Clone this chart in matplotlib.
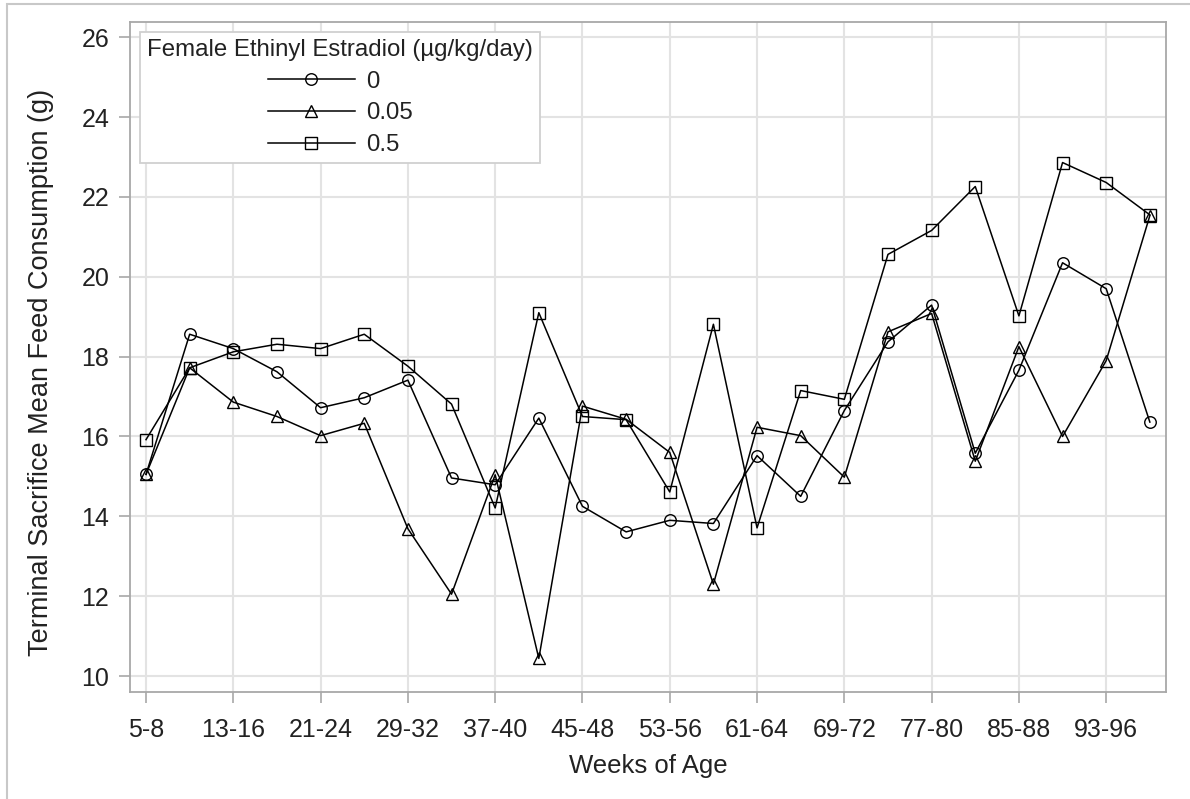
import matplotlib
matplotlib.use("Agg")
import matplotlib.pyplot as plt
from matplotlib.patches import Rectangle
import numpy as np

plt.rcParams['font.family'] = ['Liberation Sans', 'DejaVu Sans']

weeks = ["5-8", "9-12", "13-16", "17-20", "21-24", "25-28", "29-32", "33-36",
         "37-40", "41-44", "45-48", "49-52", "53-56", "57-60", "61-64", "65-68",
         "69-72", "73-76", "77-80", "81-84", "85-88", "89-92", "93-96", "97-100"]

dose_0 = [15.05, 18.56, 18.20, 17.62, 16.72, 16.97, 17.41, 14.96, 14.79, 16.46,
          14.25, 13.61, 13.90, 13.82, 15.52, 14.50, 16.65, 18.37, 19.29, 15.58,
          17.66, 20.35, 19.70, 16.36]
dose_005 = [15.05, 17.72, 16.86, 16.50, 16.02, 16.33, 13.69, 12.05, 15.04, 10.44,
            16.76, 16.43, 15.60, 12.30, 16.23, 16.02, 14.98, 18.62, 19.08, 15.38,
            18.25, 16.00, 17.90, 21.53]
dose_05 = [15.92, 17.72, 18.12, 18.31, 18.20, 18.56, 17.76, 16.81, 14.21, 19.10,
           16.50, 16.42, 14.61, 18.81, 13.71, 17.15, 16.93, 20.56, 21.16, 22.26,
           19.02, 22.86, 22.36, 21.55]

series_labels = ["0", "0.05", "0.5"]
y_ticks = [10, 12, 14, 16, 18, 20, 22, 24, 26]

W, H = 1190, 799
fig = plt.figure(figsize=(W / 100, H / 100), dpi=100)
fig.patch.set_facecolor('white')

# outer border (top and left visible)
fig.add_artist(Rectangle((7 / W, -0.1), 1.2, 1.1 - 4 / H, transform=fig.transFigure,
                         fill=False, edgecolor='#c8c8c8', lw=1.5))

ax = fig.add_axes([130 / W, 1 - 692 / H, 1036 / W, 670 / H])

x = np.arange(len(weeks))
ax.plot(x, dose_0, color='black', lw=1.1, marker='o', ms=8.3, mfc='none', mec='black', mew=1.0,
        label=series_labels[0], zorder=3)
ax.plot(x, dose_005, color='black', lw=1.1, marker='^', ms=8.8, mfc='none', mec='black', mew=1.0,
        label=series_labels[1], zorder=3)
ax.plot(x, dose_05, color='black', lw=1.1, marker='s', ms=8.3, mfc='none', mec='black', mew=1.0,
        label=series_labels[2], zorder=3)

ax.set_xlim(-0.367, 23.37)
ax.set_ylim(9.6, 26.38)
ax.set_xticks(x[::2])
ax.set_xticklabels(weeks[::2])
ax.set_yticks(y_ticks)

ax.grid(True, color='#e3e3e3', lw=1.5, zorder=0)
ax.set_axisbelow(True)
for s in ax.spines.values():
    s.set_color('#a8a8a8')
    s.set_linewidth(1.3)
ax.tick_params(axis='both', direction='out', length=8, width=1.2, color='#a8a8a8',
               labelsize=18, labelcolor='#222222')
ax.tick_params(axis='x', pad=11)
ax.tick_params(axis='y', pad=7)

ax.set_xlabel("Weeks of Age", fontsize=18.5, color='#222222')
ax.set_ylabel("Terminal Sacrifice Mean Feed Consumption (g)", fontsize=19.5, color='#222222')
ax.xaxis.set_label_coords(0.5, -(754 - 692) / 670)
ax.yaxis.set_label_coords((54 - 130) / 1036, (692 - 372) / 670)

leg = ax.legend(title="Female Ethinyl Estradiol (µg/kg/day)", loc='upper left',
                bbox_to_anchor=(10 / 1036, 1 - 10 / 670), borderaxespad=0,
                fontsize=17.3, title_fontsize=17.3, handlelength=3.65, handletextpad=0.45,
                labelspacing=0.4, fancybox=False, framealpha=1, edgecolor='#d0d0d0',
                borderpad=0.3, alignment='center')
leg.get_frame().set_linewidth(1.3)
leg.get_title().set_color('#222222')
for t in leg.get_texts():
    t.set_color('#222222')

fig.savefig("out.png", dpi=100, facecolor='white')
